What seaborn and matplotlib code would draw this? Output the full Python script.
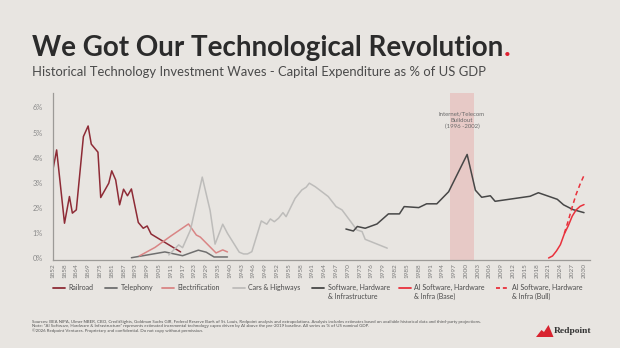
import numpy as np
import pandas as pd
import matplotlib
matplotlib.use("Agg")
import matplotlib.pyplot as plt
from matplotlib.lines import Line2D
from matplotlib.patches import Polygon
import seaborn as sns

# ---------------- data ----------------
tick_years = [1852, 1858, 1864, 1869, 1875, 1881, 1887, 1893, 1899, 1905, 1911, 1917,
              1923, 1929, 1935, 1940, 1943, 1946, 1949, 1952, 1955, 1958, 1961, 1964,
              1967, 1970, 1973, 1976, 1979, 1982, 1985, 1988, 1991, 1994, 1997, 2000,
              2003, 2006, 2009, 2012, 2015, 2018, 2021, 2024, 2027, 2030]

railroad_years = [1852, 1854, 1858, 1860.5, 1862, 1864, 1867, 1869, 1870.6, 1874, 1875.4,
                  1879.5, 1881, 1883, 1885, 1887, 1889, 1891, 1894.5, 1897, 1899, 1901, 1916]
railroad_vals = [3.48, 4.31, 1.40, 2.46, 1.80, 1.93, 4.84, 5.26, 4.54, 4.22, 2.42,
                 2.99, 3.48, 3.12, 2.13, 2.75, 2.49, 2.76, 1.43, 1.20, 1.29, 0.97, 0.26]

telephony_years = [1891, 1908, 1917, 1925, 1929, 1933, 1939]
telephony_vals = [0.03, 0.26, 0.11, 0.33, 0.25, 0.06, 0.06]

electrification_years = [1895, 1903, 1911, 1920, 1924, 1926, 1934, 1937, 1939]
electrification_vals = [0.10, 0.44, 0.89, 1.37, 0.93, 0.85, 0.22, 0.34, 0.26]

cars_years = [1910, 1915, 1917, 1921, 1927, 1931, 1933.5, 1937, 1939, 1941, 1942.4, 1943.5,
              1944.5, 1945.6, 1948, 1949.4, 1950.3, 1951.3, 1952.4, 1953.5, 1954.3, 1956.6,
              1958.3, 1959.4, 1960.2, 1961.7, 1965, 1967, 1968.5, 1970.6, 1972.3, 1973.6,
              1974.4, 1980]
cars_vals = [0.14, 0.54, 0.43, 1.13, 3.23, 1.90, 0.57, 1.36, 1.00, 0.60, 0.25, 0.18,
             0.18, 0.27, 1.49, 1.36, 1.57, 1.46, 1.60, 1.82, 1.66, 2.39,
             2.72, 2.83, 2.99, 2.85, 2.46, 2.06, 1.93, 1.49, 1.13, 1.07,
             0.76, 0.41]

software_years = [1969.5, 1971.4, 1972.4, 1974.4, 1977.4, 1980.3, 1983.1, 1984.3, 1988,
                  1990, 1992.6, 1995.6, 2000.3, 2002.4, 2004, 2006.2, 2007.4, 2016.3,
                  2018.4, 2023.2, 2024.8, 2027.2, 2030]
software_vals = [1.17, 1.09, 1.27, 1.20, 1.37, 1.77, 1.77, 2.06, 2.02,
                 2.17, 2.17, 2.65, 4.13, 2.71, 2.43, 2.49, 2.27, 2.47,
                 2.61, 2.35, 2.13, 1.94, 1.82]

ai_base_years = [2021, 2022, 2023, 2024, 2025, 2026, 2027, 2028, 2029, 2030]
ai_base_vals = [0.02, 0.10, 0.30, 0.55, 0.98, 1.30, 1.68, 1.93, 2.07, 2.14]

ai_bull_years = [2025, 2026, 2027, 2028, 2029, 2030]
ai_bull_vals = [1.00, 1.50, 2.05, 2.55, 2.95, 3.30]

series_names = ["Railroad", "Telephony", "Electrification", "Cars & Highways",
                "Software, Hardware\n& Infrastructure", "AI Software, Hardware\n& Infra (Base)",
                "AI Software, Hardware\n& Infra (Bull)"]
series_colors = ["#8e2b36", "#6f6f6f", "#d98585", "#bdbcba", "#474747", "#e8313c", "#e8313c"]
series_styles = ["-", "-", "-", "-", "-", "-", (0, (3, 2.2))]

y_ticks = [0, 1, 2, 3, 4, 5, 6]
y_tick_labels = ["0%", "1%", "2%", "3%", "4%", "5%", "6%"]

# ---------------- figure ----------------
BG = "#e8e5e1"
W, H = 620, 348
sns.set_theme(style="white")
plt.rcParams["font.family"] = ["Lato", "DejaVu Sans"]

fig = plt.figure(figsize=(6.2, 3.48), dpi=100, facecolor=BG)
ax = fig.add_axes([0.085, 0.2529, 0.8665, 0.4799])
ax.set_facecolor(BG)

tick_idx = np.arange(len(tick_years))


def pos(years):
    return np.interp(np.asarray(years, dtype=float), tick_years, tick_idx)


def fx(px):
    return px / W


def fy(py):
    return 1 - py / H


all_years = [railroad_years, telephony_years, electrification_years, cars_years,
             software_years, ai_base_years, ai_bull_years]
all_vals = [railroad_vals, telephony_vals, electrification_vals, cars_vals,
            software_vals, ai_base_vals, ai_bull_vals]

# shaded internet buildout
ax.axvspan(pos(1996), pos(2002), color="#e7c9c6", lw=0, zorder=0)
ax.text(pos(1999), 5.83, "Internet/Telecom\nBuildout\n(1996 -2002)", ha="center", va="top",
        fontsize=4.3, color="#6a6a6a", linespacing=1.25)

for yrs, vals, name, col, ls in zip(all_years, all_vals, series_names, series_colors, series_styles):
    df = pd.DataFrame({"x": pos(yrs), "y": vals})
    sns.lineplot(data=df, x="x", y="y", ax=ax, color=col, linewidth=1.1, linestyle=ls,
                 sort=False, estimator=None, legend=False)

ax.set_xlim(0, 45.5)
ax.set_ylim(-0.06, 6.57)
ax.set_xticks(tick_idx)
ax.set_xticklabels([str(y) for y in tick_years], rotation=90, fontsize=4.6, color="#7a7a7a")
ax.set_yticks(y_ticks)
ax.set_yticklabels(y_tick_labels, fontsize=5.3, color="#8a8a8a")
ax.tick_params(axis="x", length=0, pad=2.5)
ax.tick_params(axis="y", length=0, pad=7)
ax.set_xlabel("")
ax.set_ylabel("")
for s in ["top", "right"]:
    ax.spines[s].set_visible(False)
for s in ["left", "bottom"]:
    ax.spines[s].set_color("#9c9a97")
    ax.spines[s].set_linewidth(0.9)

# legend (handle aligned with the first line of each label)
leg_x = [53, 105, 162, 233, 312, 399, 496]
leg_y = 288.3
for x0, name, col, ls in zip(leg_x, series_names, series_colors, series_styles):
    fig.add_artist(Line2D([fx(x0), fx(x0 + 12)], [fy(leg_y), fy(leg_y)], color=col, lw=1.3,
                          linestyle=ls if ls == "-" else (0, (2.2, 1.6))))
    fig.text(fx(x0 + 15.5), fy(leg_y - 4.3), name, fontsize=5.0, color="#4a4a4a",
             ha="left", va="top", linespacing=1.25)

# title
title = fig.text(0.052, fy(56), "We Got Our Technological Revolution", fontsize=20, fontweight="bold",
                 color="#2b2b2b", ha="left", va="baseline")
fig.canvas.draw()
bb = title.get_window_extent()
fig.text(bb.x1 / fig.bbox.width, fy(56), ".", fontsize=20, fontweight="bold", color="#e02030",
         ha="left", va="baseline")
fig.text(0.052, fy(76), "Historical Technology Investment Waves - Capital Expenditure as % of US GDP",
         fontsize=9.4, color="#4a4a4a", ha="left", va="baseline")

# footer
foot = ("Sources: BEA NIPA, Ulmer NBER, CBO, CreditSights, Goldman Sachs GIR, Federal Reserve Bank of St. Louis, "
        "Redpoint analysis and extrapolations. Analysis includes estimates based on available historical data and third-party projections.\n"
        "Note: \u201cAI Software, Hardware & Infrastructure\u201d represents estimated incremental technology capex driven by AI "
        "above the pre-2019 baseline. All series as % of US nominal GDP.\n"
        "\u00a92026 Redpoint Ventures. Proprietary and confidential. Do not copy without permission.")
fig.text(0.052, fy(326.7), foot, fontsize=3.2, color="#555555", ha="left", va="center", linespacing=1.15)

# logo
logo_pts = [[fx(536), fy(337)], [fx(541.5), fy(330)], [fx(544), fy(332)], [fx(548.5), fy(325)],
            [fx(553.5), fy(337)]]
fig.add_artist(Polygon(logo_pts, closed=True, transform=fig.transFigure, facecolor="#d8232f",
                       edgecolor="none"))
fig.text(fx(554), fy(331), "Redpoint", fontsize=6.8, family=["Liberation Serif", "DejaVu Serif"],
         color="#333333", ha="left", va="center", fontweight="bold")

fig.savefig("out.png", dpi=100, facecolor=BG)
